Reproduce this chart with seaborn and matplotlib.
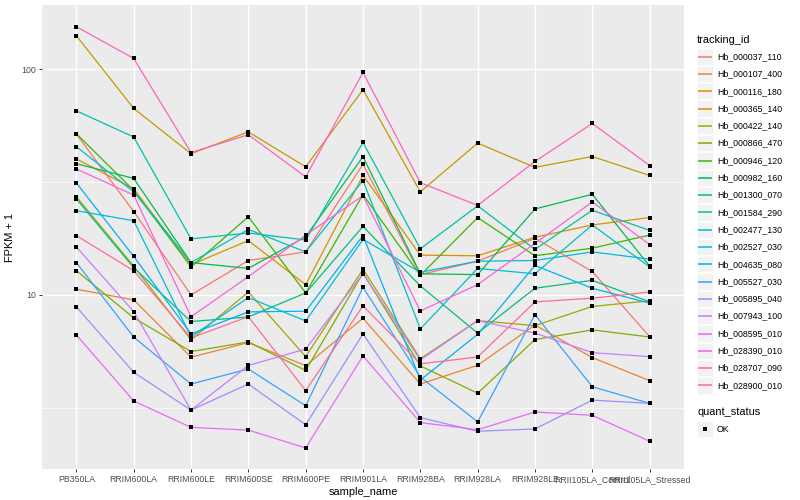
import matplotlib
matplotlib.use("Agg")
from matplotlib import pyplot as plt
from matplotlib.patches import Rectangle
import pandas as pd
import numpy as np
import seaborn as sns

samples = ["PB350LA", "RRIM600LA", "RRIM600LE", "RRIM600SE", "RRIM600PE", "RRIM901LA",
           "RRIM928BA", "RRIM928LA", "RRIM928LE", "RRII105LA_Control", "RRII105LA_Stressed"]

tracking_ids = ["Hb_000037_110", "Hb_000107_400", "Hb_000116_180", "Hb_000365_140", "Hb_000422_140",
                "Hb_000866_470", "Hb_000946_120", "Hb_000982_160", "Hb_001300_070", "Hb_001584_290",
                "Hb_002477_130", "Hb_002527_030", "Hb_004635_080", "Hb_005527_030", "Hb_005895_040",
                "Hb_007943_100", "Hb_008595_010", "Hb_028390_010", "Hb_028707_090", "Hb_028900_010"]

# ggplot hue palette for 20 groups
colors = ["#F8766D", "#EA8331", "#D89000", "#C09B00", "#A3A500", "#7CAE00", "#39B600", "#00BB4E",
          "#00BF7D", "#00C1A3", "#00BFC4", "#00BAE0", "#00B0F6", "#35A2FF", "#9590FF", "#C77CFF",
          "#E76BF3", "#FA62DB", "#FF62BC", "#FF6C91"]

# FPKM + 1 per gene, one value per sample
hb_000037_110 = [51.5, 23.4, 10.0, 14.2, 15.5, 37.9, 12.3, 14.1, 17.8, 12.7, 6.53]
hb_000107_400 = [10.6, 9.50, 5.30, 6.15, 4.86, 7.88, 4.03, 4.88, 7.36, 5.28, 4.17]
hb_000116_180 = [40.0, 29.5, 13.6, 17.4, 11.1, 33.8, 15.0, 14.9, 18.0, 20.4, 22.0]
hb_000365_140 = [140.4, 66.9, 42.2, 52.7, 36.9, 81.0, 28.6, 47.0, 36.7, 41.0, 33.8]
hb_000422_140 = [27.2, 13.4, 6.32, 10.3, 5.33, 13.0, 5.22, 7.69, 7.31, 8.89, 9.41]
hb_000866_470 = [12.8, 7.91, 5.61, 6.19, 4.63, 12.5, 4.85, 3.67, 6.34, 7.00, 6.51]
hb_000946_120 = [51.7, 29.0, 13.3, 22.2, 10.2, 27.8, 12.2, 22.0, 14.9, 16.1, 18.4]
hb_000982_160 = [38.1, 32.8, 13.9, 13.1, 18.1, 40.9, 12.4, 12.3, 24.0, 27.9, 13.4]
hb_001300_070 = [26.6, 13.2, 7.62, 7.99, 10.2, 20.1, 10.96, 6.77, 10.7, 11.6, 9.31]
hb_001584_290 = [65.3, 50.0, 17.7, 18.8, 17.5, 47.3, 16.0, 24.8, 15.9, 23.7, 19.3]
hb_002477_130 = [45.3, 28.6, 13.9, 19.5, 15.5, 32.1, 7.07, 13.1, 12.4, 20.4, 13.3]
hb_002527_030 = [23.6, 21.3, 6.53, 9.73, 7.67, 17.6, 12.6, 14.1, 14.2, 15.5, 14.4]
hb_004635_080 = [31.3, 14.8, 6.72, 8.41, 8.47, 18.3, 4.20, 6.69, 13.5, 10.7, 9.19]
hb_005527_030 = [13.9, 6.50, 4.03, 4.70, 3.23, 10.8, 4.33, 2.74, 8.18, 3.92, 3.31]
hb_005895_040 = [8.85, 4.54, 3.09, 4.03, 2.66, 6.72, 2.86, 2.49, 2.55, 3.42, 3.31]
hb_007943_100 = [16.3, 8.43, 3.09, 4.87, 5.76, 12.4, 5.15, 7.69, 6.77, 5.55, 5.33]
hb_008595_010 = [6.65, 3.39, 2.59, 2.52, 2.10, 5.37, 2.72, 2.53, 3.03, 2.93, 2.25]
hb_028390_010 = [36.1, 27.7, 8.00, 12.05, 18.4, 27.5, 8.49, 11.1, 16.9, 25.8, 16.7]
hb_028707_090 = [154.0, 111.4, 42.7, 51.2, 33.3, 96.6, 31.4, 24.9, 39.0, 57.4, 37.4]
hb_028900_010 = [18.3, 12.8, 6.45, 8.01, 3.77, 8.94, 4.95, 5.31, 9.31, 9.67, 10.3]

series = [hb_000037_110, hb_000107_400, hb_000116_180, hb_000365_140, hb_000422_140,
          hb_000866_470, hb_000946_120, hb_000982_160, hb_001300_070, hb_001584_290,
          hb_002477_130, hb_002527_030, hb_004635_080, hb_005527_030, hb_005895_040,
          hb_007943_100, hb_008595_010, hb_028390_010, hb_028707_090, hb_028900_010]

rows = []
for tid, vals in zip(tracking_ids, series):
    for s, v in zip(samples, vals):
        rows.append({"tracking_id": tid, "sample_name": s, "FPKM": v, "quant_status": "OK"})
df = pd.DataFrame(rows)

W, H = 800, 500
fig = plt.figure(figsize=(8, 5), dpi=100)
ax = fig.add_axes([42 / W, 1 - 469 / H, (684 - 42) / W, (469 - 5) / H])
ax.set_facecolor("#EBEBEB")

sns.lineplot(data=df, x="sample_name", y="FPKM", hue="tracking_id", hue_order=tracking_ids,
             palette=colors, sort=False, estimator=None, linewidth=0.9, legend=False, ax=ax)
sns.scatterplot(data=df, x="sample_name", y="FPKM", color="black", marker="s", s=8,
                linewidth=0, legend=False, ax=ax, zorder=5)

ax.set_yscale("log")
ax.set_ylim(10 ** 0.2291, 10 ** 2.2836)
ax.set_xlim(-0.6, len(samples) - 0.4)
ax.set_yticks([10, 100])
ax.set_yticklabels(["10", "100"])
ax.set_yticks([10 ** 0.5, 10 ** 1.5], minor=True)
ax.yaxis.set_minor_formatter(plt.NullFormatter())
ax.set_xticks(range(len(samples)))
ax.set_xticklabels(samples)

ax.grid(True, which="major", color="white", linewidth=1.0)
ax.grid(True, which="minor", axis="y", color="white", linewidth=0.5)
ax.set_axisbelow(True)
for sp in ax.spines.values():
    sp.set_visible(False)
ax.tick_params(which="major", length=2.5, width=0.7, color="#333333", labelsize=6.3,
               labelcolor="#4D4D4D", pad=2)
ax.tick_params(which="minor", length=0)
for lab in ax.get_xticklabels() + ax.get_yticklabels():
    lab.set_family("Liberation Sans")

ax.set_xlabel("sample_name", fontsize=7.9, family="Liberation Sans", labelpad=2)
ax.set_ylabel("FPKM + 1", fontsize=7.9, family="Liberation Sans", labelpad=4)

# ggplot-style legend drawn by hand on an overlay
lg = fig.add_axes([0, 0, 1, 1], facecolor="none")
lg.set_xlim(0, W)
lg.set_ylim(H, 0)
lg.axis("off")

lg.text(697, 40, "tracking_id", fontsize=7.9, family="Liberation Sans", va="center", ha="left")
y0, step = 56.7, 17.3
for i, (tid, c) in enumerate(zip(tracking_ids, colors)):
    yc = y0 + i * step
    lg.add_patch(Rectangle((697, yc - step / 2 + 0.5), 16, step - 1, facecolor="#F2F2F2", edgecolor="white", lw=0.5))
    lg.plot([698, 712], [yc, yc], color=c, lw=1.1, solid_capstyle="butt")
    lg.text(717, yc, tid, fontsize=6.3, family="Liberation Sans", va="center", ha="left")

lg.text(697, 412, "quant_status", fontsize=7.9, family="Liberation Sans", va="center", ha="left")
lg.add_patch(Rectangle((697, 429 - step / 2 + 0.5), 16, step - 1, facecolor="#F2F2F2", edgecolor="white", lw=0.5))
lg.scatter([705], [429], marker="s", s=8, color="black", linewidths=0)
lg.text(717, 429, "OK", fontsize=6.3, family="Liberation Sans", va="center", ha="left")

fig.savefig("out.png", dpi=100)
